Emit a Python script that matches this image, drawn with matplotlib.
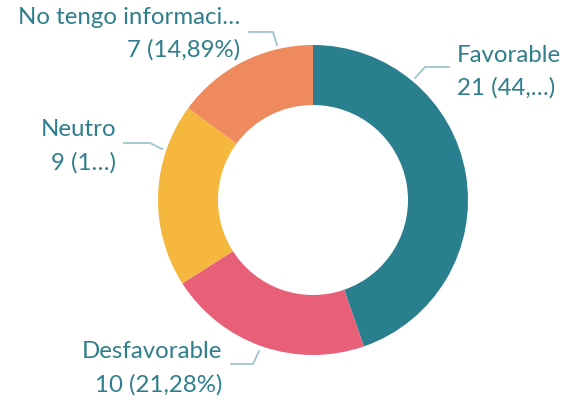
import matplotlib.pyplot as plt

# datos
categorias = ['Favorable', 'Desfavorable', 'Neutro', 'No tengo informaci…']
valores = [21, 10, 9, 7]
etiquetas_valor = ['21 (44,…)', '10 (21,28%)', '9 (1…)', '7 (14,89%)']
colores = ['#2A7F8E', '#E85F78', '#F5B73E', '#EF8A5E']

color_texto = '#2E7E8C'
color_linea = '#9EC6CD'

W, H = 568, 402
fig = plt.figure(figsize=(W / 100, H / 100), dpi=100)
ax = fig.add_axes([0, 0, 1, 1])

ax.pie(valores, colors=colores, startangle=90, counterclock=False,
       center=(313, H - 201), radius=155,
       wedgeprops=dict(width=60, linewidth=0))

# pie() cambia los límites, se fijan después
ax.set_xlim(0, W)
ax.set_ylim(0, H)
ax.set_aspect('equal')
ax.axis('off')

# posiciones de etiquetas (px): x texto, alineación, y línea 1, y línea 2, línea guía
layout = {
    'Favorable': (457, 'left', 55, 88, [(449, 68), (425, 68), (415, 79)]),
    'Desfavorable': (222, 'right', 352, 385, [(231, 365), (253, 365), (259, 352)]),
    'Neutro': (116, 'right', 130, 163, [(124, 144), (150, 144), (162, 150)]),
    'No tengo informaci…': (240, 'right', 17, 50, [(249, 33), (273, 33), (277, 46)]),
}

for cat, val_txt in zip(categorias, etiquetas_valor):
    x, ha, y1, y2, guia = layout[cat]
    ax.text(x, H - y1, cat, ha=ha, va='center', fontsize=17.3,
            family='Lato', color=color_texto)
    ax.text(x, H - y2, val_txt, ha=ha, va='center', fontsize=17.3,
            family='Lato', color=color_texto)
    xs = [p[0] for p in guia]
    ys = [H - p[1] for p in guia]
    ax.plot(xs, ys, color=color_linea, linewidth=1.3)

fig.savefig('out.png', dpi=100)
